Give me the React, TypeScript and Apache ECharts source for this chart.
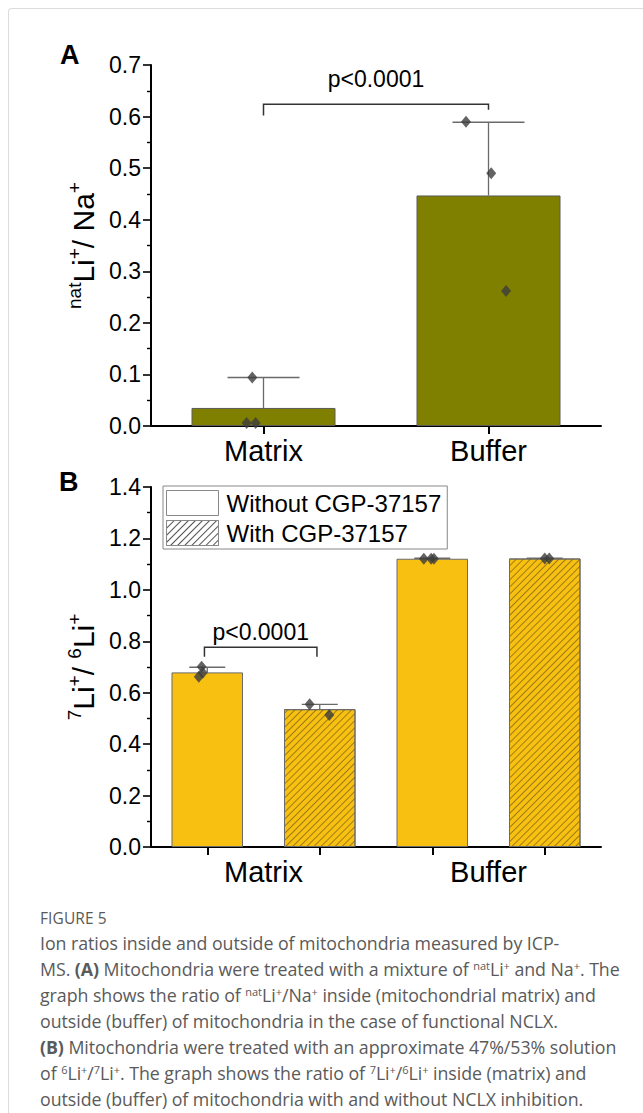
import React, { useEffect, useRef } from "react";
import * as echarts from "echarts";

// ---------- Panel A data ----------
const categoriesA = ["Matrix", "Buffer"];
const meanA = [0.035, 0.447];
const errTopA = [0.094, 0.589];
const pointsA = [
  [0.094, 0.006, 0.006],
  [0.59, 0.49, 0.262],
];
const jitterA = [
  [-0.05, -0.075, -0.035],
  [-0.1, 0.012, 0.078],
];
const yMaxA = 0.7;
const yStepA = 0.1;
const bracketA = [0, 1, 0.624, 0.602, 0.613, 0.673];

// ---------- Panel B data ----------
const groupsB = ["Matrix", "Buffer"];
const slotsB = ["Matrix without", "Matrix with", "Buffer without", "Buffer with"];
const seriesNamesB = ["Without CGP-37157", "With CGP-37157"];
const withoutB = [0.679, 1.121];
const withB = [0.536, 1.122];
const errTopWithoutB = [0.699, 1.123];
const errTopWithB = [0.555, 1.123];
const pointsB = [
  [0.701, 0.662, 0.678],
  [0.555, 0.513],
  [1.121, 1.121, 1.121],
  [1.122, 1.122],
];
const jitterB = [
  [-0.05, -0.075, -0.04],
  [-0.09, 0.085],
  [-0.075, -0.01, 0.015],
  [0.0, 0.04],
];
const yMaxB = 1.4;
const yStepB = 0.2;
const bracketB = [-0.025, 0.975, 0.777, 0.74, 0.74, 0.836];
const pLabel = "p<0.0001";

const FONT = "Liberation Sans, Arial, sans-serif";

function makePoints(vals: number[][], jit: number[][]) {
  const out: number[][] = [];
  vals.forEach((arr, i) => arr.forEach((v, k) => out.push([i + jit[i][k], v])));
  return out;
}

const errorRender = (_p: any, api: any) => {
  const cat = api.value(0);
  const base = api.coord([cat, api.value(1)]);
  const top = api.coord([cat, api.value(2)]);
  const band = api.size([1, 0])[0];
  const half = band * 0.16;
  const st = { stroke: "#6a6a6a", lineWidth: 1.3 };
  return {
    type: "group",
    children: [
      { type: "line", shape: { x1: base[0], y1: base[1], x2: top[0], y2: top[1] }, style: st },
      { type: "line", shape: { x1: top[0] - half, y1: top[1], x2: top[0] + half, y2: top[1] }, style: st },
    ],
  };
};

const bracketRender = (_p: any, api: any) => {
  const x1 = api.value(0);
  const x2 = api.value(1);
  const a = api.coord([x1, api.value(3)]);
  const b = api.coord([x1, api.value(2)]);
  const c = api.coord([x2, api.value(2)]);
  const d = api.coord([x2, api.value(4)]);
  const t = api.coord([(x1 + x2) / 2, api.value(5)]);
  return {
    type: "group",
    children: [
      {
        type: "polyline",
        shape: { points: [a, b, c, d] },
        style: { stroke: "#333", lineWidth: 1.5, fill: "none" },
      },
      {
        type: "text",
        x: t[0],
        y: t[1],
        style: {
          text: pLabel,
          fill: "#000",
          font: `23px ${FONT}`,
          align: "center",
          verticalAlign: "middle",
          textAlign: "center",
          textVerticalAlign: "middle",
        },
      },
    ],
  };
};

const hatch = {
  symbol: "rect",
  symbolSize: 1,
  dashArrayX: [[1, 0]],
  dashArrayY: [0.9, 3.4],
  rotation: -Math.PI / 4,
  color: "rgba(95,75,20,0.6)",
};

const axisLineStyle = { show: true, onZero: false, lineStyle: { color: "#000", width: 2 } };

function yAxisCfg(grid: number, max: number, step: number, name: string, rich: any) {
  return {
    type: "value",
    gridIndex: grid,
    min: 0,
    max,
    interval: step,
    axisLine: axisLineStyle,
    axisTick: { show: true, length: 8, lineStyle: { color: "#000", width: 1.6 } },
    minorTick: { show: true, splitNumber: 2, length: 4, lineStyle: { color: "#000", width: 1.4 } },
    splitLine: { show: false },
    minorSplitLine: { show: false },
    axisLabel: {
      formatter: (v: number) => v.toFixed(1),
      fontSize: 23,
      color: "#000",
      fontFamily: FONT,
      margin: 10,
    },
    name,
    nameLocation: "middle",
    nameRotate: 90,
    nameGap: 50,
    nameTextStyle: { rich },
  };
}

const richName = {
  main: { fontSize: 30, fontFamily: FONT, color: "#000", lineHeight: 36 },
  sup: { fontSize: 19, fontFamily: FONT, color: "#000", verticalAlign: "top" },
};

export default function App() {
  const ref = useRef<HTMLDivElement>(null);
  useEffect(() => {
    if (!ref.current) return;
    const chart = echarts.init(ref.current, undefined, { renderer: "svg" });
    const catLabel = { fontSize: 29, color: "#000", fontFamily: FONT, margin: 10 };
    const option: any = {
      animation: false,
      grid: [
        { left: 151, top: 65, width: 450, height: 361 },
        { left: 151, top: 487, width: 450, height: 360 },
      ],
      xAxis: [
        {
          type: "category",
          gridIndex: 0,
          data: categoriesA,
          axisLine: axisLineStyle,
          axisTick: { show: true, alignWithLabel: true, length: 8, lineStyle: { color: "#000", width: 2 } },
          axisLabel: catLabel,
        },
        { type: "value", gridIndex: 0, min: -0.5, max: 1.5, show: false },
        {
          type: "category",
          gridIndex: 1,
          data: slotsB,
          axisLine: axisLineStyle,
          axisTick: { show: true, alignWithLabel: true, interval: 0, length: 8, lineStyle: { color: "#000", width: 2 } },
          axisLabel: { show: false },
        },
        {
          type: "category",
          gridIndex: 1,
          data: groupsB,
          position: "bottom",
          axisLine: { show: false, onZero: false },
          axisTick: { show: false },
          axisLabel: catLabel,
        },
        { type: "value", gridIndex: 1, min: -0.5, max: 3.5, show: false },
      ],
      yAxis: [
        yAxisCfg(0, yMaxA, yStepA, "{sup|nat}{main|Li}{sup|+}{main|/ Na}{sup|+}", richName),
        yAxisCfg(1, yMaxB, yStepB, "{sup|7}{main|Li}{sup|+}{main|/ }{sup|6}{main|Li}{sup|+}", richName),
      ],
      legend: {
        show: true,
        orient: "vertical",
        left: 163,
        top: 486,
        itemWidth: 52,
        itemHeight: 25,
        itemGap: 4,
        padding: [4, 6, 3, 3],
        borderColor: "#888",
        borderWidth: 1,
        selectedMode: false,
        icon: "rect",
        textStyle: { fontSize: 24, color: "#000", fontFamily: FONT, padding: [0, 0, 0, 3] },
        data: [
          { name: seriesNamesB[0], itemStyle: { color: "#fff", borderColor: "#888", borderWidth: 1, decal: "none" } },
          {
            name: seriesNamesB[1],
            itemStyle: { color: "#fff", borderColor: "#888", borderWidth: 1, decal: { ...hatch, color: "rgba(40,40,40,0.8)" } },
          },
        ],
      },
      graphic: [
        { type: "text", left: 60, top: 41, style: { text: "A", font: `bold 27px ${FONT}`, fill: "#000" } },
        { type: "text", left: 59, top: 468, style: { text: "B", font: `bold 27px ${FONT}`, fill: "#000" } },
      ],
      series: [
        {
          type: "bar",
          xAxisIndex: 0,
          yAxisIndex: 0,
          data: meanA,
          barWidth: 144,
          itemStyle: { color: "#808000", borderColor: "#5a5a5a", borderWidth: 1 },
          z: 2,
        },
        {
          type: "custom",
          xAxisIndex: 0,
          yAxisIndex: 0,
          renderItem: errorRender,
          encode: { x: 0, y: [1, 2] },
          data: meanA.map((m, i) => [i, m, errTopA[i]]),
          z: 3,
        },
        {
          type: "scatter",
          xAxisIndex: 1,
          yAxisIndex: 0,
          data: makePoints(pointsA, jitterA),
          symbol: "diamond",
          symbolSize: [10, 12],
          itemStyle: { color: "#3c3c3c" },
          z: 4,
        },
        {
          type: "custom",
          xAxisIndex: 1,
          yAxisIndex: 0,
          renderItem: bracketRender,
          encode: { x: [0, 1], y: [2, 3, 4, 5] },
          data: [bracketA],
          z: 5,
        },
        {
          type: "bar",
          name: seriesNamesB[0],
          xAxisIndex: 2,
          yAxisIndex: 1,
          data: [withoutB[0], "-", withoutB[1], "-"],
          barWidth: 71.5,
          barGap: "-100%",
          itemStyle: { color: "#F8C112", borderColor: "#6a6a6a", borderWidth: 1 },
          z: 2,
        },
        {
          type: "bar",
          name: seriesNamesB[1],
          xAxisIndex: 2,
          yAxisIndex: 1,
          data: ["-", withB[0], "-", withB[1]],
          barWidth: 71.5,
          barGap: "-100%",
          itemStyle: { color: "#F8C112", borderColor: "#6a6a6a", borderWidth: 1, decal: hatch },
          z: 2,
        },
        {
          type: "custom",
          xAxisIndex: 2,
          yAxisIndex: 1,
          renderItem: errorRender,
          encode: { x: 0, y: [1, 2] },
          data: [
            [0, withoutB[0], errTopWithoutB[0]],
            [1, withB[0], errTopWithB[0]],
            [2, withoutB[1], errTopWithoutB[1]],
            [3, withB[1], errTopWithB[1]],
          ],
          z: 3,
        },
        {
          type: "scatter",
          xAxisIndex: 4,
          yAxisIndex: 1,
          data: makePoints(pointsB, jitterB),
          symbol: "diamond",
          symbolSize: [10, 12],
          itemStyle: { color: "#3c3c3c" },
          z: 4,
        },
        {
          type: "custom",
          xAxisIndex: 4,
          yAxisIndex: 1,
          renderItem: bracketRender,
          encode: { x: [0, 1], y: [2, 3, 4, 5] },
          data: [bracketB],
          z: 5,
        },
      ],
    };
    chart.setOption(option);
    return () => chart.dispose();
  }, []);

  const sup: React.CSSProperties = { fontSize: "0.62em", verticalAlign: "0.55em", lineHeight: 0 };
  const captionLines: React.ReactNode[] = [
    <>Ion ratios inside and outside of mitochondria measured by ICP-</>,
    <>
      MS. <b>(A)</b> Mitochondria were treated with a mixture of <span style={sup}>nat</span>Li<span style={sup}>+</span> and Na
      <span style={sup}>+</span>. The
    </>,
    <>
      graph shows the ratio of <span style={sup}>nat</span>Li<span style={sup}>+</span>/Na<span style={sup}>+</span> inside
      (mitochondrial matrix) and
    </>,
    <>outside (buffer) of mitochondria in the case of functional NCLX.</>,
    <>
      <b>(B)</b> Mitochondria were treated with an approximate 47%/53% solution
    </>,
    <>
      of <span style={sup}>6</span>Li<span style={sup}>+</span>/<span style={sup}>7</span>Li<span style={sup}>+</span>. The graph
      shows the ratio of <span style={sup}>7</span>Li<span style={sup}>+</span>/<span style={sup}>6</span>Li
      <span style={sup}>+</span> inside (matrix) and
    </>,
    <>outside (buffer) of mitochondria with and without NCLX inhibition.</>,
  ];

  return (
    <>
      <div
        style={{
          position: "absolute",
          left: 8,
          top: 8,
          width: 635,
          height: 1105,
          borderTop: "1px solid #dcdcdc",
          borderLeft: "1px solid #dcdcdc",
          borderTopLeftRadius: 4,
          boxSizing: "border-box",
        }}
      />
      <div ref={ref} style={{ position: "absolute", left: 0, top: 0, width: 643, height: 900 }} />
      <div
        style={{
          position: "absolute",
          left: 40,
          top: 906,
          fontFamily: "'Open Sans', 'Noto Sans', sans-serif",
          color: "#5a5a5a",
          whiteSpace: "nowrap",
        }}
      >
        <div style={{ fontSize: 15.5, lineHeight: "24px", letterSpacing: "0.1px" }}>FIGURE 5</div>
        {captionLines.map((l, i) => (
          <div key={i} style={{ fontSize: 17.8, lineHeight: "26px", letterSpacing: "-0.05px" }}>
            {l}
          </div>
        ))}
      </div>
    </>
  );
}
